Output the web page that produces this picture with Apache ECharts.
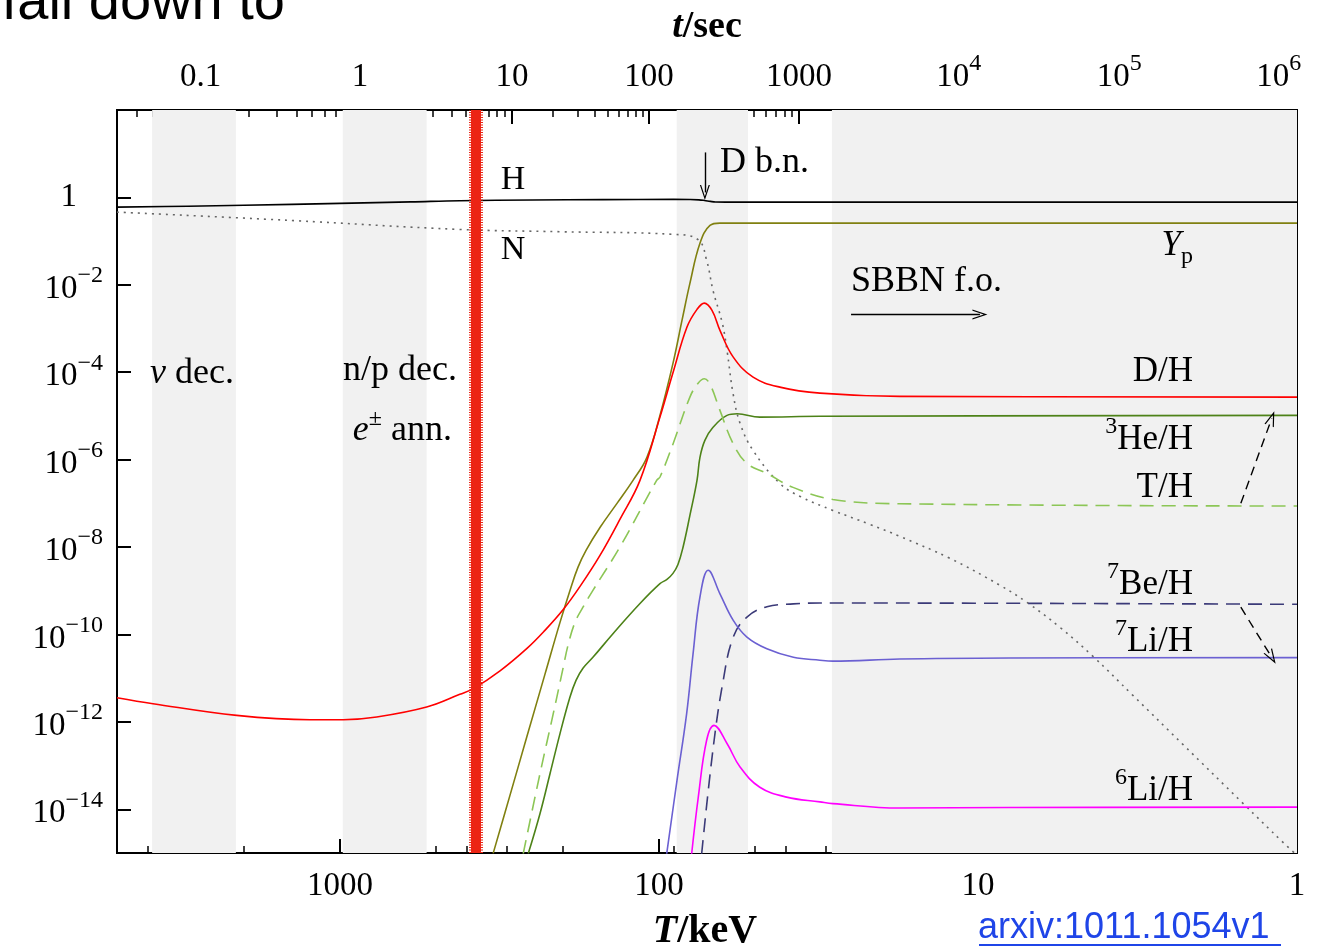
<!DOCTYPE html>
<html>
<head>
<meta charset="utf-8">
<script src="https://cdn.jsdelivr.net/npm/echarts@6/dist/echarts.min.js"></script>
<style>
html, body { margin: 0; padding: 0; background: #fff; }
#chart { width: 1320px; height: 951px; }
</style>
</head>
<body>
<div id="chart"></div>
<script>
const SERIF = '"Liberation Serif", "DejaVu Serif", serif'
const SANS = '"Liberation Sans", Arial, sans-serif'

// [T in keV, abundance]
const hydrogen = [[5000, 0.60], [3000, 0.63], [2000, 0.66], [1000, 0.73], [600, 0.79], [421, 0.84], [250, 0.87], [150, 0.89], [90, 0.90], [80, 0.895], [75, 0.88], [72, 0.85], [69, 0.81], [66.5, 0.785], [62, 0.78], [1, 0.78]]
const neutron = [[5000, 0.461], [1435, 0.298], [421, 0.185], [204, 0.164], [90.3, 0.143], [75.4, 0.108], [70.9, 0.0363], [67.7, 7.4e-3], [63.3, 1.32e-3], [61.2, 3.16e-4], [58.6, 3.3e-5], [55.7, 6.8e-6], [50.7, 1.62e-6], [41.8, 2.86e-7], [36.1, 1.44e-7], [28.5, 6.9e-8], [21.8, 3.3e-8], [17.6, 1.76e-8], [12.24, 5.5e-9], [8.53, 1.33e-9], [7.02, 5.4e-10], [5.53, 1.45e-10], [4.36, 3.15e-11], [3.27, 4.05e-12], [2.28, 3.06e-13], [1.477, 1.37e-14], [1.106, 1.75e-15], [1.0, 8.9e-16]]
const heliumYp = [[331, 9.8e-16], [293.2, 2.08e-14], [259.3, 4.67e-13], [227.8, 1.22e-11], [204.3, 1.89e-10], [190.1, 1.02e-9], [179.5, 3.43e-9], [169.3, 8.4e-9], [153.1, 2.8e-8], [135.4, 1.0e-7], [120.6, 3.36e-7], [109.1, 1.13e-6], [99.3, 1.03e-5], [90.4, 1.59e-4], [84.7, 1.53e-3], [80.0, 1.08e-2], [74.4, 8.9e-2], [69.2, 0.229], [64.4, 0.258], [1, 0.258]]
const deuterium = [[5000, 3.58e-12], [3856, 2.61e-12], [2108, 1.41e-12], [1242, 1.12e-12], [976, 1.12e-12], [767, 1.29e-12], [535, 2.18e-12], [421, 4.27e-12], [382, 5.75e-12], [315, 1.47e-11], [259.3, 4.8e-11], [227.8, 1.24e-10], [199.9, 3.66e-10], [176.8, 1.26e-9], [153.1, 6.45e-9], [132.6, 4.3e-8], [114.7, 3.36e-7], [99.3, 9.4e-6], [90.4, 9.7e-5], [81.7, 1.08e-3], [76.0, 2.74e-3], [72.1, 3.82e-3], [68.2, 2.6e-3], [64.4, 9.1e-4], [58.5, 2.22e-4], [50.7, 7.7e-5], [41.8, 4.57e-5], [31.3, 3.33e-5], [17.6, 2.8e-5], [1, 2.7e-5]]
const helium3 = [[256.9, 9.7e-16], [236.1, 7.9e-15], [219.6, 6.5e-14], [204.3, 5.4e-13], [190.1, 3.7e-12], [182.0, 8.9e-12], [173.1, 1.68e-11], [161.1, 3.0e-11], [139.4, 1.04e-10], [114.7, 5.1e-10], [99.3, 1.45e-9], [94.4, 1.82e-9], [90.4, 2.5e-9], [87.2, 4.0e-9], [84.1, 9.8e-9], [80.0, 5.3e-8], [76.0, 3.36e-7], [74.4, 1.13e-6], [71.8, 2.76e-6], [67.7, 5.5e-6], [61.2, 1.03e-5], [56.9, 1.12e-5], [48.3, 9.4e-6], [31.3, 9.8e-6], [1, 1.03e-5]]
const tritium = [[266.4, 9.7e-16], [236.1, 6.5e-14], [214.5, 1.54e-12], [199.5, 1.8e-11], [192.9, 5.6e-11], [183.4, 1.89e-10], [173.1, 4.2e-10], [161.1, 1.02e-9], [132.6, 1.0e-8], [101.7, 3.36e-7], [99.3, 4.0e-7], [90.3, 2.32e-6], [80.0, 2.7e-5], [75.4, 5.6e-5], [72.1, 7.1e-5], [69.2, 5.3e-5], [64.4, 1.34e-5], [58.6, 2.35e-6], [53.0, 8.2e-7], [45.9, 4.85e-7], [38.0, 2.32e-7], [28.5, 1.23e-7], [17.6, 9.8e-8], [1, 8.7e-8]]
const beryllium7 = [[73.5, 9.5e-16], [67.6, 2.6e-13], [62.9, 8.9e-12], [58.5, 8.7e-11], [53.0, 2.5e-10], [45.9, 4.3e-10], [37.9, 5.0e-10], [31.3, 5.25e-10], [1, 4.9e-10]]
const lithium7 = [[94.6, 9.5e-16], [87.8, 4.6e-14], [81.9, 1.55e-12], [78.2, 3.6e-11], [74.4, 7.2e-10], [70.1, 2.95e-9], [64.4, 8.5e-10], [58.5, 2.1e-10], [53.0, 8.7e-11], [45.9, 4.7e-11], [37.9, 3.0e-11], [31.3, 2.57e-11], [28.5, 2.45e-11], [17.6, 2.75e-11], [8, 2.9e-11], [1, 2.95e-11]]
const lithium6 = [[79.0, 9.5e-16], [75.3, 1.9e-14], [70.9, 3.8e-13], [67.2, 8.3e-13], [61.2, 3.2e-13], [55.7, 9.3e-14], [48.3, 3.2e-14], [39.8, 1.9e-14], [31.3, 1.48e-14], [28.5, 1.35e-14], [17.6, 1.07e-14], [8, 1.1e-14], [1, 1.12e-14]]

// shaded epochs [T_from, T_to] and the red marker
const bands = [[3880, 2120], [980, 535], [88, 52.6], [28.7, 1]]
const redMarkerT = 375

// annotation arrows [from, to] in (T, abundance)
const arrowDbn = [[71.8, 10.7], [71.8, 1.3]]
const arrowFo = [[25, 2.1e-3], [9.86, 2.1e-3]]
const arrowT3He = [[1.50, 1.0e-7], [1.20, 8.8e-6]]
const arrowBe7Li = [[1.50, 4.2e-10], [1.20, 3.0e-11]]

// ticks
const xMajor = [1000, 100, 10, 1]
const xMinor = [4000, 3000, 2000, 900, 800, 700, 600, 500, 400, 300, 200, 90, 80, 70, 60, 50, 40, 30, 20, 9, 8, 7, 6, 5, 4, 3, 2]
const yMajor = [1, 1e-2, 1e-4, 1e-6, 1e-8, 1e-10, 1e-12, 1e-14]
const timeLabels = ['0.1', '1', '10', '100', '1000', '{b|10}{s|4}', '{b|10}{s|5}', '{b|10}{s|6}']
const timeTickT = [2735, 865, 289, 107.5, 36.4, 11.5, 3.61, 1.14]

function timeToT(t) {
    const lt = Math.log10(t)
    const i = Math.min(Math.max(Math.floor(lt) + 1, 0), timeTickT.length - 2)
    const f = lt - (i - 1)
    const a = Math.log10(timeTickT[i]), b = Math.log10(timeTickT[i + 1])
    return Math.pow(10, a + (b - a) * f)
}
const timeMinorT = []
for (let n = -2; n <= 5; n++) {
    for (let k = 2; k <= 9; k++) {
        const T = timeToT(k * Math.pow(10, n))
        if (T < 4900 && T > 1.02) timeMinorT.push(T)
    }
}

const chevron = 'path://M0,20 L10,0 L20,20 L17.5,20 L10,5 L2.5,20 Z'
const richNum = {
    b: { fontSize: 33, fontFamily: SERIF, color: '#000', lineHeight: 42, verticalAlign: 'bottom' },
    s: { fontSize: 24, fontFamily: SERIF, color: '#000', lineHeight: 24, verticalAlign: 'top' },
    one: { fontSize: 33, fontFamily: SERIF, color: '#000', lineHeight: 42, padding: [0, 26, 0, 0] },
}

function xAxisBase(pos) {
    return {
        type: 'log', logBase: 10, min: 1, max: 5000, inverse: true, position: pos,
        axisLine: { show: true, onZero: false, lineStyle: { color: '#000', width: 2 } },
        splitLine: { show: false }, minorTick: { show: false },
    }
}
function yAxisBase(pos) {
    return {
        type: 'log', logBase: 10, min: 1e-15, max: 100, position: pos,
        axisLine: { show: true, onZero: false, lineStyle: { color: '#000', width: 2 } },
        splitLine: { show: false }, minorTick: { show: false },
        axisTick: { inside: true, length: 14, lineStyle: { color: '#000', width: 2 }, customValues: yMajor },
    }
}

function curve(name, data, color, type) {
    return {
        name, type: 'line', data, symbol: 'none', showSymbol: false, smooth: 0.4, clip: true,
        lineStyle: { color, width: 1.6, type: type || 'solid' }, z: 3,
    }
}

function arrowLine(pair, dashed) {
    const ls = { color: '#000', width: 1.4, type: dashed ? [9, 6] : 'solid', opacity: 1 }
    return [
        { coord: pair[0], symbol: 'none', lineStyle: ls },
        { coord: pair[1], symbol: chevron, symbolSize: [10, 15], lineStyle: ls },
    ]
}

function label(x, y, text, align, size) {
    const fs = size || 35
    return {
        type: 'text', x, y, z: 100,
        style: {
            text, align: align || 'center', verticalAlign: 'middle', fill: '#000',
            font: fs + 'px ' + SERIF,
            rich: {
                n: { fontSize: fs, fontFamily: SERIF, lineHeight: 42, verticalAlign: 'bottom' },
                i: { fontSize: fs, fontFamily: SERIF, fontStyle: 'italic', lineHeight: 42, verticalAlign: 'bottom' },
                s: { fontSize: 24, fontFamily: SERIF, lineHeight: 24, verticalAlign: 'top' },
                sub: { fontSize: 24, fontFamily: SERIF, lineHeight: 24, verticalAlign: 'bottom', padding: [0, 0, -6, 0] },
                bi: { fontSize: fs, fontFamily: SERIF, fontStyle: 'italic', fontWeight: 'bold' },
                bb: { fontSize: fs, fontFamily: SERIF, fontWeight: 'bold' },
            },
        },
    }
}

const chart = echarts.init(document.getElementById('chart'), null, { renderer: 'canvas' })

const hSeries = curve('H', hydrogen, '#000')
hSeries.markArea = {
    silent: true,
    itemStyle: { color: '#f1f1f1' },
    data: bands.map(b => [{ xAxis: b[0] }, { xAxis: b[1] }]),
}
hSeries.markLine = {
    silent: true, animation: false, symbol: ['none', 'none'], label: { show: false },
    emphasis: { disabled: true },
    data: [
        { xAxis: redMarkerT, lineStyle: { color: '#ec2414', width: 14, type: [1, 1.5], opacity: 1 } },
        { xAxis: redMarkerT, lineStyle: { color: '#ec2414', width: 10, type: 'solid' } },
        arrowLine(arrowDbn, false),
        arrowLine(arrowFo, false),
        arrowLine(arrowT3He, true),
        arrowLine(arrowBe7Li, true),
    ],
}

chart.setOption({
    animation: false,
    backgroundColor: '#fff',
    grid: { left: 117, right: 23, top: 110, bottom: 98 },
    xAxis: [
        Object.assign(xAxisBase('bottom'), {
            axisTick: { inside: true, length: 14, lineStyle: { color: '#000', width: 2 }, customValues: xMajor },
            axisLabel: { customValues: xMajor, margin: 17, fontSize: 33, fontFamily: SERIF, color: '#000', formatter: v => String(Math.round(v)) },
        }),
        Object.assign(xAxisBase('bottom'), {
            axisTick: { inside: true, length: 7, lineStyle: { color: '#000', width: 1.5 }, customValues: xMinor },
            axisLabel: { show: false },
        }),
        Object.assign(xAxisBase('top'), {
            axisTick: { inside: true, length: 14, lineStyle: { color: '#000', width: 2 }, customValues: timeTickT },
            axisLabel: {
                customValues: timeTickT, margin: 16, color: '#000', fontSize: 33, fontFamily: SERIF, rich: richNum,
                formatter: v => {
                    let best = 0
                    timeTickT.forEach((T, i) => { if (Math.abs(Math.log(T / v)) < Math.abs(Math.log(timeTickT[best] / v))) best = i })
                    const s = timeLabels[best]
                    return s.indexOf('{') === 0 ? s : '{b|' + s + '}'
                },
            },
        }),
        Object.assign(xAxisBase('top'), {
            axisTick: { inside: true, length: 7, lineStyle: { color: '#000', width: 1.5 }, customValues: timeMinorT },
            axisLabel: { show: false },
        }),
    ],
    yAxis: [
        Object.assign(yAxisBase('left'), {
            axisLabel: {
                customValues: yMajor, margin: 14, color: '#000', rich: richNum,
                formatter: v => {
                    const e = Math.round(Math.log10(v))
                    return e === 0 ? '{one|1}' : '{b|10}{s|\u2212' + (-e) + '}'
                },
            },
        }),
        Object.assign(yAxisBase('right'), { axisLabel: { show: false } }),
    ],
    series: [
        hSeries,
        curve('N', neutron, '#666', [2, 5]),
        curve('Yp', heliumYp, '#808010'),
        curve('D/H', deuterium, '#ff0000'),
        curve('3He/H', helium3, '#4d8218'),
        curve('T/H', tritium, '#8cc656', [14, 8]),
        curve('7Be/H', beryllium7, '#3b3a78', [14, 8]),
        curve('7Li/H', lithium7, '#6b60d2'),
        curve('6Li/H', lithium6, '#ff00ff'),
    ],
    graphic: {
        elements: [
            { type: 'text', x: 285, y: 4, z: 100, style: { text: 'fall down to', align: 'right', verticalAlign: 'middle', fill: '#000', font: '56px ' + SANS } },
            label(707, 27, '{bi|t}{bb|/sec}', 'center', 38),
            label(705, 932, '{bi|T}{bb|/keV}', 'center', 40),
            label(513, 180, 'H', 'center', 34),
            label(513, 250, 'N', 'center', 34),
            label(720, 163, 'D b.n.', 'left', 36),
            label(851, 282, 'SBBN f.o.', 'left', 36),
            label(1193, 242, '{i|Y}{sub|p}', 'right', 35),
            label(1193, 372, 'D/H', 'right', 35),
            label(1193, 436, '{s|3}{n|He/H}', 'right', 35),
            label(1193, 488, 'T/H', 'right', 35),
            label(1193, 581, '{s|7}{n|Be/H}', 'right', 35),
            label(1193, 638, '{s|7}{n|Li/H}', 'right', 35),
            label(1193, 787, '{s|6}{n|Li/H}', 'right', 35),
            label(150, 371, '{i|\u03bd}{n| dec.}', 'left', 36),
            label(457, 371, 'n/p dec.', 'right', 36),
            label(452, 428, '{i|e}{s|\u00b1}{n| ann.}', 'right', 36),
            { type: 'text', x: 978, y: 928, z: 100, style: { text: 'arxiv:1011.1054v1', align: 'left', verticalAlign: 'middle', fill: '#1f45e8', font: '36px ' + SANS } },
            { type: 'line', z: 100, shape: { x1: 979, y1: 945, x2: 1281, y2: 945 }, style: { stroke: '#1f45e8', lineWidth: 2 } },
        ],
    },
})
</script>
</body>
</html>
